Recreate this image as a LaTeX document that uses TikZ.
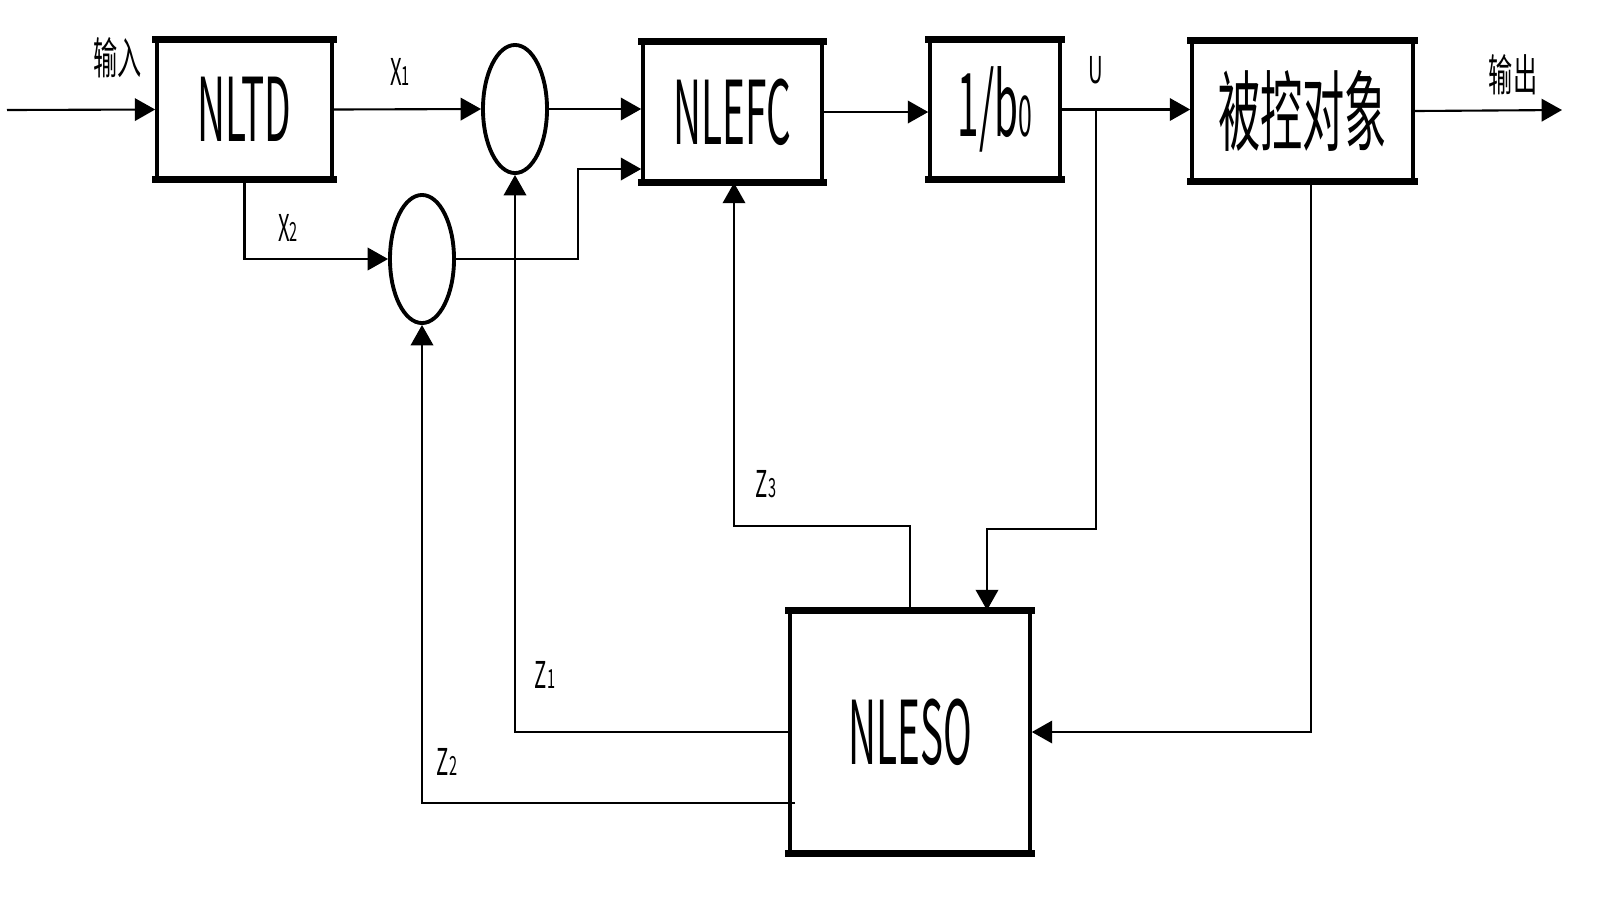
\documentclass[tikz,border=0pt]{standalone}
\usepackage{fontspec}
\setmainfont{Noto Sans CJK SC}
\usetikzlibrary{arrows.meta,shapes.geometric}
\newcommand\narrow[2][0.44]{\scalebox{#1}[1]{#2}}
\tikzset{
  blk/.style={draw,line width=1pt,rectangle,inner sep=0pt,font=\fontsize{25}{27}\selectfont},
  sumc/.style={draw,line width=1.1pt,ellipse,inner sep=0pt,minimum width=0.64cm,minimum height=1.28cm},
  conn/.style={line width=0.6pt},
  arr/.style={conn,-{Triangle[length=5.8pt,width=6.4pt]}},
  lbl/.style={font=\fontsize{10.5}{12}\selectfont,inner sep=0pt},
  topbot/.style={line width=2pt,line cap=rect}
}
\begin{document}
\begin{tikzpicture}[x=0.01cm,y=-0.01cm]
\useasboundingbox[fill=white] (0,0) rectangle (1600,899);
% blocks
\node[blk,minimum width=1.75cm,minimum height=1.37cm] (NLTD) at (244.5,109.5) {\narrow{NLTD}};
\node[blk,minimum width=1.79cm,minimum height=1.38cm] (NLEFC) at (732.5,112) {\narrow{NLEFC}};
\node[blk,minimum width=1.30cm,minimum height=1.37cm] (B) at (995,109.5) {\narrow{1/b{\fontsize{16}{17}\selectfont 0}}};
\node[blk,minimum width=2.21cm,minimum height=1.38cm] (P) at (1302.5,111) {\narrow[0.48]{被控对象}};
\node[blk,minimum width=2.40cm,minimum height=2.40cm] (NLESO) at (910,732) {\narrow{NLESO}};
\foreach \n in {NLTD,NLEFC,B,P,NLESO}{
  \draw[topbot] (\n.north west) -- (\n.north east);
  \draw[topbot] (\n.south west) -- (\n.south east);
}
% summing circles
\node[sumc] (c1) at (515,109) {};
\node[sumc] (c2) at (422,259) {};
% coordinates
\coordinate (in) at (7,110);
\coordinate (out) at (1562,110);
\coordinate (k) at (578,169);
\coordinate (u) at (1096,110);
\coordinate (u2) at (987,529);
\coordinate (z3) at (734,526);
\coordinate (z2) at (795,803);
\coordinate (pb) at (1311,180);
% connectors
\draw[arr] (in) -- (NLTD.west);
\draw[arr] (NLTD.east) -- (c1.west);
\draw[arr] (NLTD.south) |- (c2.west);
\draw[arr] (c1.east) -- (NLEFC.west |- c1.east);
\draw[arr] (c2.east) -| (k) -- (NLEFC.west |- k);
\draw[arr] (NLEFC.east) -- (B.west |- NLEFC.east);
\draw[arr] (B.east) -- (P.west |- B.east);
\draw[arr] (P.east) -- (out);
\draw[arr] (u) |- (u2) -- (u2 |- NLESO.north);
\draw[arr] (pb) |- (NLESO.east);
\draw[arr] (NLESO.north) |- (z3) -- (z3 |- NLEFC.south);
\draw[arr] (NLESO.west) -| (c1.south);
\draw[arr] (z2) -| (c2.south);
% labels
\node[lbl,font=\fontsize{12.5}{14}\selectfont] (lin) at (118,58) {\narrow[0.55]{输入}};
\node[lbl,font=\fontsize{12.5}{14}\selectfont] (lout) at (1513,75) {\narrow[0.55]{输出}};
\node[lbl] (lx1) at (400,72) {\narrow[0.55]{X{\fontsize{7.5}{8}\selectfont 1}}};
\node[lbl] (lx2) at (288,228) {\narrow[0.55]{X{\fontsize{7.5}{8}\selectfont 2}}};
\node[lbl] (lu) at (1096,70) {\narrow[0.55]{U}};
\node[lbl] (lz3) at (766,484) {\narrow[0.55]{Z{\fontsize{7.5}{8}\selectfont 3}}};
\node[lbl] (lz1) at (545,675) {\narrow[0.55]{Z{\fontsize{7.5}{8}\selectfont 1}}};
\node[lbl] (lz2) at (447,762) {\narrow[0.55]{Z{\fontsize{7.5}{8}\selectfont 2}}};
\end{tikzpicture}
\end{document}
